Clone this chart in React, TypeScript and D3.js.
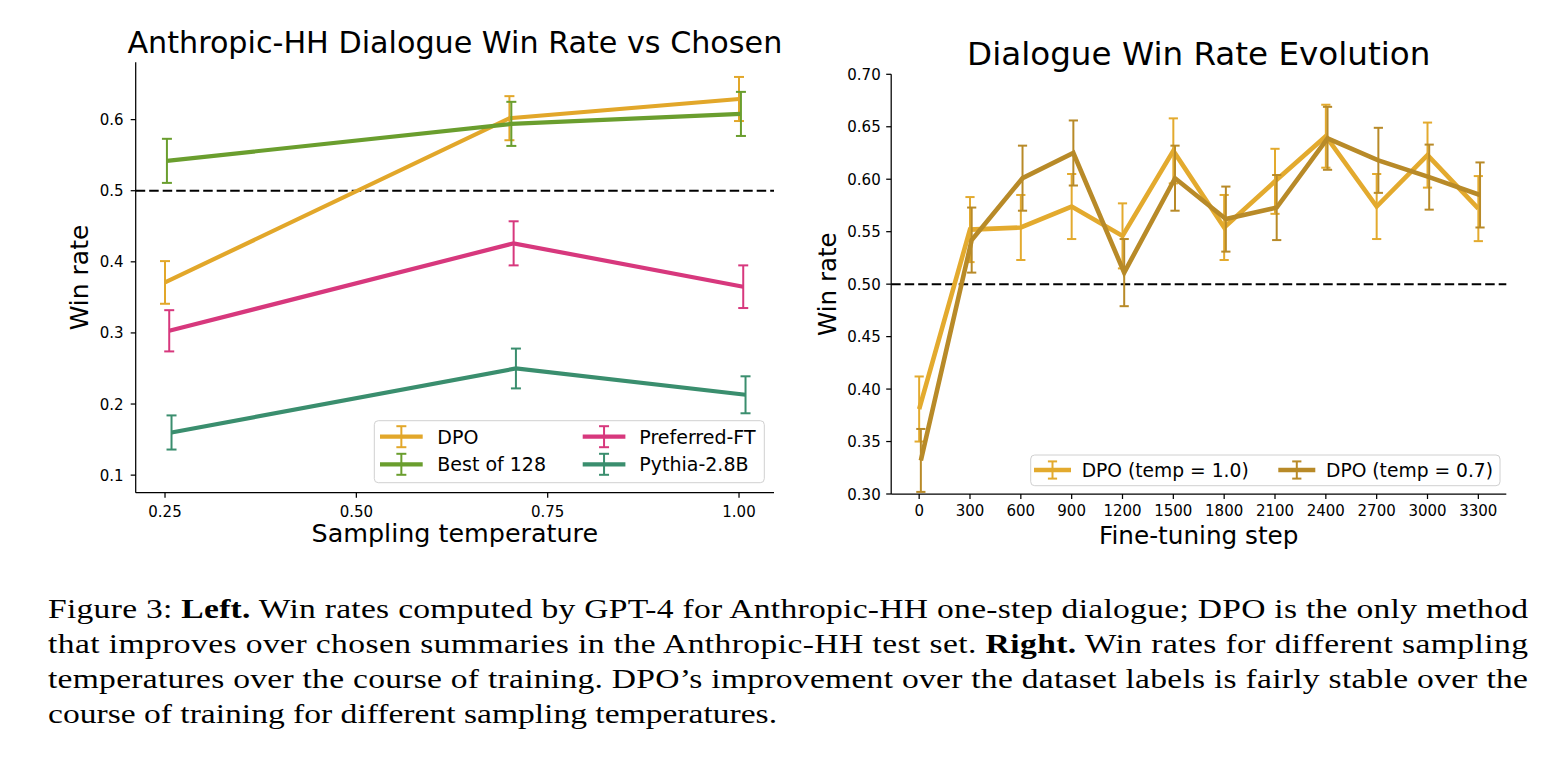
import React from "react";
import * as d3 from "d3";

// ---------- Left panel data ----------
const tempsLeft = [0.25, 0.7, 1.0];
const leftSeriesNames = ["DPO", "Best of 128", "Preferred-FT", "Pythia-2.8B"];
const leftColors = ["#E2A72A", "#6A9E2E", "#D7387D", "#3A8E6E"];
const leftOffsets = [0, 0.0025, 0.0055, 0.0085];
const dpoVals = [0.371, 0.602, 0.629];
const dpoErr = [0.030, 0.031, 0.031];
const bestVals = [0.542, 0.594, 0.608];
const bestErr = [0.031, 0.031, 0.031];
const prefVals = [0.303, 0.426, 0.365];
const prefErr = [0.029, 0.031, 0.030];
const pythiaVals = [0.160, 0.250, 0.213];
const pythiaErr = [0.024, 0.028, 0.026];
const leftXTicks = [0.25, 0.5, 0.75, 1.0];
const leftXTickLabels = ["0.25", "0.50", "0.75", "1.00"];
const leftYTicks = [0.1, 0.2, 0.3, 0.4, 0.5, 0.6];
const leftYTickLabels = ["0.1", "0.2", "0.3", "0.4", "0.5", "0.6"];

// ---------- Right panel data ----------
const steps = [0, 300, 600, 900, 1200, 1500, 1800, 2100, 2400, 2700, 3000, 3300];
const rightSeriesNames = ["DPO (temp = 1.0)", "DPO (temp = 0.7)"];
const rightColors = ["#E3AA2E", "#B88A28"];
const rightOffsets = [0, 10];
const temp10Vals = [0.381, 0.552, 0.554, 0.574, 0.546, 0.627, 0.554, 0.598, 0.641, 0.574, 0.623, 0.572];
const temp10Err = [0.031, 0.031, 0.031, 0.031, 0.031, 0.031, 0.031, 0.031, 0.030, 0.031, 0.031, 0.031];
const temp07Vals = [0.332, 0.542, 0.601, 0.625, 0.511, 0.601, 0.562, 0.573, 0.639, 0.618, 0.602, 0.585];
const temp07Err = [0.030, 0.031, 0.031, 0.031, 0.032, 0.031, 0.031, 0.031, 0.030, 0.031, 0.031, 0.031];
const rightYTicks = [0.3, 0.35, 0.4, 0.45, 0.5, 0.55, 0.6, 0.65, 0.7];
const rightYTickLabels = ["0.30", "0.35", "0.40", "0.45", "0.50", "0.55", "0.60", "0.65", "0.70"];
const rightXTickLabels = steps.map(String);

const baseline = 0.5;

// ---------- Caption ----------
type Seg = { t: string; b?: boolean };
const captionLines: Seg[][] = [
  [{ t: "Figure 3: " }, { t: "Left.", b: true }, { t: " Win rates computed by GPT-4 for Anthropic-HH one-step dialogue; DPO is the only method" }],
  [{ t: "that improves over chosen summaries in the Anthropic-HH test set. " }, { t: "Right.", b: true }, { t: " Win rates for different sampling" }],
  [{ t: "temperatures over the course of training. DPO\u2019s improvement over the dataset labels is fairly stable over the" }],
  [{ t: "course of training for different sampling temperatures." }],
];
const captionJustified = [true, true, true, false];

const FONT = "'DejaVu Sans', sans-serif";

function ErrLine({ xs, ys, errs, x, y, color, lw, capHalf, ebw }: any) {
  const line = d3
    .line<number>()
    .x((_, i) => x(xs[i]))
    .y((v) => y(v));
  return (
    <g>
      <path d={line(ys) || ""} fill="none" stroke={color} strokeWidth={lw} strokeLinejoin="miter" />
      {ys.map((v: number, i: number) => {
        const cx = x(xs[i]);
        const y1 = y(v + errs[i]);
        const y2 = y(v - errs[i]);
        return (
          <g key={i} stroke={color} strokeWidth={ebw}>
            <line x1={cx} x2={cx} y1={y1} y2={y2} />
            <line x1={cx - capHalf} x2={cx + capHalf} y1={y1} y2={y1} />
            <line x1={cx - capHalf} x2={cx + capHalf} y1={y2} y2={y2} />
          </g>
        );
      })}
    </g>
  );
}

function LegendHandle({ x1, x2, cy, color, lw, half, capHalf, ebw }: any) {
  const cx = (x1 + x2) / 2;
  return (
    <g stroke={color}>
      <line x1={x1} x2={x2} y1={cy} y2={cy} strokeWidth={lw} />
      <line x1={cx} x2={cx} y1={cy - half} y2={cy + half} strokeWidth={ebw} />
      <line x1={cx - capHalf} x2={cx + capHalf} y1={cy - half} y2={cy - half} strokeWidth={ebw} />
      <line x1={cx - capHalf} x2={cx + capHalf} y1={cy + half} y2={cy + half} strokeWidth={ebw} />
    </g>
  );
}

const CAP_SCALE = 1.212;
const CAP_X = 48;
const CAP_W = 1480;

export default function App() {
  // Left scales
  const xL = d3.scaleLinear().domain([0.2117, 1.0457]).range([135.7, 774]);
  const yL = d3.scaleLinear().domain([0.0753, 0.6806]).range([492.7, 62.3]);
  // Right scales
  const xR = d3.scaleLinear().domain([-165, 3465]).range([891.2, 1506.3]);
  const yR = d3.scaleLinear().domain([0.3, 0.7]).range([494, 74.3]);

  const leftVals = [dpoVals, bestVals, prefVals, pythiaVals];
  const leftErrs = [dpoErr, bestErr, prefErr, pythiaErr];
  const rightVals = [temp10Vals, temp07Vals];
  const rightErrs = [temp10Err, temp07Err];

  const [lx0, lx1] = xL.range();
  const [ly0, ly1] = yL.range();
  const [rx0, rx1] = xR.range();
  const [ry0, ry1] = yR.range();

  return (
    <svg
      width={1552}
      height={760}
      style={{ position: "absolute", left: 0, top: 0, background: "#fff" }}
      xmlns="http://www.w3.org/2000/svg"
    >
      <rect width={1552} height={760} fill="#fff" />

      {/* ================= LEFT PANEL ================= */}
      <text x={(lx0 + lx1) / 2} y={53.3} textAnchor="middle" fontFamily={FONT} fontSize={30.2} fill="#000">
        Anthropic-HH Dialogue Win Rate vs Chosen
      </text>

      {/* baseline dashed */}
      <line x1={lx0} x2={lx1} y1={yL(baseline)} y2={yL(baseline)} stroke="#000" strokeWidth={2} strokeDasharray="9.5,4" />

      {leftVals.map((vals, si) => (
        <ErrLine
          key={si}
          xs={tempsLeft.map((t) => t + leftOffsets[si])}
          ys={vals}
          errs={leftErrs[si]}
          x={xL}
          y={yL}
          color={leftColors[si]}
          lw={4.2}
          capHalf={5}
          ebw={2}
        />
      ))}

      {/* axes */}
      <line x1={lx0} x2={lx0} y1={ly0} y2={ly1} stroke="#000" strokeWidth={1.25} />
      <line x1={lx0} x2={lx1} y1={ly0} y2={ly0} stroke="#000" strokeWidth={1.25} />
      {leftXTicks.map((t, i) => (
        <g key={i}>
          <line x1={xL(t)} x2={xL(t)} y1={ly0} y2={ly0 + 5} stroke="#000" strokeWidth={1.25} />
          <text x={xL(t)} y={516.7} textAnchor="middle" fontFamily={FONT} fontSize={15} fill="#000">
            {leftXTickLabels[i]}
          </text>
        </g>
      ))}
      {leftYTicks.map((t, i) => (
        <g key={i}>
          <line x1={lx0 - 5} x2={lx0} y1={yL(t)} y2={yL(t)} stroke="#000" strokeWidth={1.25} />
          <text x={123.5} y={yL(t) + 5.5} textAnchor="end" fontFamily={FONT} fontSize={15} fill="#000">
            {leftYTickLabels[i]}
          </text>
        </g>
      ))}
      <text x={(lx0 + lx1) / 2} y={542} textAnchor="middle" fontFamily={FONT} fontSize={25.4} fill="#000">
        Sampling temperature
      </text>
      <text
        transform={`translate(88.3, ${(ly0 + ly1) / 2}) rotate(-90)`}
        textAnchor="middle"
        fontFamily={FONT}
        fontSize={25}
        fill="#000"
      >
        Win rate
      </text>

      {/* left legend */}
      <rect x={374.3} y={420.7} width={390} height={62} rx={4} fill="#fff" fillOpacity={0.8} stroke="#d0d0d0" strokeWidth={1} />
      {leftSeriesNames.map((name, i) => {
        const col = i === 0 || i === 1 ? 0 : 1;
        const row = i === 0 || i === 2 ? 0 : 1;
        const cy = row === 0 ? 436.7 : 464.3;
        const hx1 = col === 0 ? 380 : 582.7;
        const tx = col === 0 ? 437.3 : 639.3;
        return (
          <g key={name}>
            <LegendHandle x1={hx1} x2={hx1 + 42.7} cy={cy} color={leftColors[i]} lw={4.2} half={10.5} capHalf={5} ebw={2} />
            <text x={tx} y={cy + 6.8} fontFamily={FONT} fontSize={19} fill="#000">
              {name}
            </text>
          </g>
        );
      })}

      {/* ================= RIGHT PANEL ================= */}
      <text x={(rx0 + rx1) / 2} y={65} textAnchor="middle" fontFamily={FONT} fontSize={32.6} fill="#000">
        Dialogue Win Rate Evolution
      </text>

      <line x1={rx0} x2={rx1} y1={yR(baseline)} y2={yR(baseline)} stroke="#000" strokeWidth={2} strokeDasharray="9.5,4" />

      {rightVals.map((vals, si) => (
        <ErrLine
          key={si}
          xs={steps.map((s) => s + rightOffsets[si])}
          ys={vals}
          errs={rightErrs[si]}
          x={xR}
          y={yR}
          color={rightColors[si]}
          lw={4.6}
          capHalf={4.6}
          ebw={2}
        />
      ))}

      <line x1={rx0} x2={rx0} y1={ry0} y2={ry1} stroke="#000" strokeWidth={1.25} />
      <line x1={rx0} x2={rx1} y1={ry0} y2={ry0} stroke="#000" strokeWidth={1.25} />
      {steps.map((s, i) => (
        <g key={i}>
          <line x1={xR(s)} x2={xR(s)} y1={ry0} y2={ry0 + 5} stroke="#000" strokeWidth={1.25} />
          <text x={xR(s)} y={516} textAnchor="middle" fontFamily={FONT} fontSize={15} fill="#000">
            {rightXTickLabels[i]}
          </text>
        </g>
      ))}
      {rightYTicks.map((t, i) => (
        <g key={i}>
          <line x1={rx0 - 5} x2={rx0} y1={yR(t)} y2={yR(t)} stroke="#000" strokeWidth={1.25} />
          <text x={880.7} y={yR(t) + 5.5} textAnchor="end" fontFamily={FONT} fontSize={15} fill="#000">
            {rightYTickLabels[i]}
          </text>
        </g>
      ))}
      <text x={(rx0 + rx1) / 2} y={544} textAnchor="middle" fontFamily={FONT} fontSize={24.7} fill="#000">
        Fine-tuning step
      </text>
      <text
        transform={`translate(836, ${(ry0 + ry1) / 2}) rotate(-90)`}
        textAnchor="middle"
        fontFamily={FONT}
        fontSize={24.5}
        fill="#000"
      >
        Win rate
      </text>

      {/* right legend */}
      <rect x={1030.7} y={455} width={469.3} height={30.7} rx={4} fill="#fff" fillOpacity={0.8} stroke="#d0d0d0" strokeWidth={1} />
      {rightSeriesNames.map((name, i) => {
        const hx1 = i === 0 ? 1034 : 1278.3;
        const tx = i === 0 ? 1081.7 : 1326;
        const cy = 470;
        return (
          <g key={name}>
            <LegendHandle x1={hx1} x2={hx1 + 37} cy={cy} color={rightColors[i]} lw={4.6} half={8.6} capHalf={4.6} ebw={2} />
            <text x={tx} y={cy + 6.7} fontFamily={FONT} fontSize={18.7} fill="#000">
              {name}
            </text>
          </g>
        );
      })}

      {/* ================= CAPTION ================= */}
      <g transform={`translate(${CAP_X},0) scale(${CAP_SCALE},1)`}>
        {captionLines.map((segs, li) => (
          <text
            key={li}
            x={0}
            y={618.3 + li * 35}
            fontFamily="'Liberation Serif', 'Times New Roman', serif"
            fontSize={27.7}
            fill="#000"
            {...(captionJustified[li] ? { textLength: CAP_W / CAP_SCALE, lengthAdjust: "spacing" } : {})}
          >
            {segs.map((s, si) => (
              <tspan key={si} fontWeight={s.b ? "bold" : "normal"}>
                {s.t}
              </tspan>
            ))}
          </text>
        ))}
      </g>
    </svg>
  );
}
